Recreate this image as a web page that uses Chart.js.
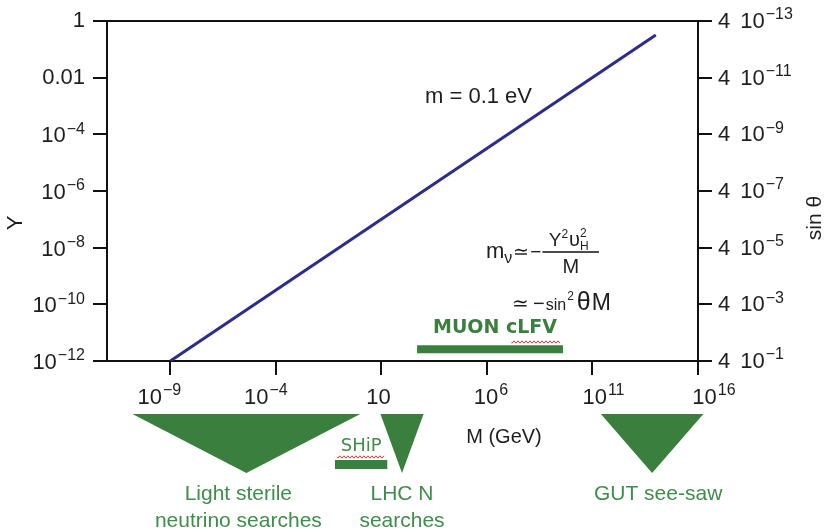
<!DOCTYPE html>
<html>
<head>
<meta charset="utf-8">
<script src="https://cdn.jsdelivr.net/npm/chart.js@4.4.1/dist/chart.umd.min.js"></script>
<style>
  html, body { margin: 0; padding: 0; background: #fff; }
  #wrap { width: 827px; height: 532px; position: relative; }
</style>
</head>
<body>
<div id="wrap"><canvas id="seesaw"></canvas></div>
<script>
// m = 0.1 eV see-saw line: Yukawa Y against heavy mass M (GeV)
var massGeV = [1e-9, 1e14];
var yukawa = [1e-12, 0.32];

var xTicks = [1e-9, 1e-4, 10, 1e6, 1e11, 1e16];
var xTickLabels = ['10^\u22129', '10^\u22124', '10', '10^6', '10^11', '10^16'];
var yTicks = [1, 1e-2, 1e-4, 1e-6, 1e-8, 1e-10, 1e-12];
var yTickLabels = ['1', '0.01', '10^\u22124', '10^\u22126', '10^\u22128', '10^\u221210', '10^\u221212'];
var sinTicks = [4e-13, 4e-11, 4e-9, 4e-7, 4e-5, 4e-3, 4e-1];
var sinTickLabels = ['4 10^\u221213', '4 10^\u221211', '4 10^\u22129', '4 10^\u22127', '4 10^\u22125', '4 10^\u22123', '4 10^\u22121'];

// experimental reach in M (GeV)
var muonRange = [490, 4e9];
var muonY = 2.6e-12;
var shipRange = [0.063, 19];
var searchNames = [['Light sterile', 'neutrino searches'], ['LHC N', 'searches'], ['GUT see-saw']];
var searchLo = [1.6e-11, 9, 2.5e11];
var searchHi = [1, 1000, 1.8e16];

var xLabelNudge = [-11, -10, -3, 4, 11, 16];
var searchLabelNudge = [-8, 0, 6];

var GREEN = '#3a7f3e';
var TEXTGREEN = '#3f8d4a';
var INK = '#1e1e1e';
var SANS = '"Liberation Sans", Arial, sans-serif';

function splitLabel(s) {
  var pre = '', i = s.indexOf(' ');
  if (i >= 0) { pre = s.slice(0, i); s = s.slice(i + 1); }
  var p = s.split('^');
  return { pre: pre, base: p[0], exp: p[1] || '' };
}

// tick label with optional superscript exponent
function drawLabel(c, s, x, y, align, dy) {
  var L = splitLabel(s);
  c.font = '22px ' + SANS;
  var wPre = L.pre ? c.measureText(L.pre).width + 10 : 0;
  var wBase = c.measureText(L.base).width;
  c.font = '16px ' + SANS;
  var wExp = L.exp ? c.measureText(L.exp).width + 1 : 0;
  var w = wPre + wBase + wExp;
  var x0 = align === 'right' ? x - w : (align === 'center' ? x - w / 2 : x);
  if (!L.exp) dy = 0;
  c.textAlign = 'left';
  c.textBaseline = 'middle';
  c.font = '22px ' + SANS;
  if (L.pre) c.fillText(L.pre, x0, y + dy);
  c.fillText(L.base, x0 + wPre, y + dy);
  if (L.exp) {
    c.font = '16px ' + SANS;
    c.fillText(L.exp, x0 + wPre + wBase + 1, y + dy - 7);
  }
}

// draw text pieces left to right: [text, fontPx, dy, gapAfter]
function run(c, x, y, pieces) {
  pieces.forEach(function(p) {
    c.font = p[1] + 'px ' + SANS;
    c.fillText(p[0], x, y + p[2]);
    x += c.measureText(p[0]).width + p[3];
  });
  return x;
}

function squiggle(c, x1, x2, y) {
  c.save();
  c.strokeStyle = '#e23b3b';
  c.lineWidth = 1;
  c.beginPath();
  c.moveTo(x1, y);
  for (var x = x1, k = 0; x <= x2; x += 2, k++) c.lineTo(x, y + (k % 2 ? -1.2 : 1.2));
  c.stroke();
  c.restore();
}

var decor = {
  id: 'decor',
  afterDraw: function(chart) {
    var c = chart.ctx, a = chart.chartArea;
    var sx = chart.scales.x, sy = chart.scales.y, s2 = chart.scales.y2;
    c.save();

    // top frame
    c.strokeStyle = '#111';
    c.lineWidth = 2;
    c.beginPath();
    c.moveTo(a.left, a.top);
    c.lineTo(a.right, a.top);
    c.stroke();

    // tick labels
    c.fillStyle = INK;
    yTicks.forEach(function(v, i) { drawLabel(c, yTickLabels[i], 85, sy.getPixelForValue(v), 'right', 2); });
    sinTicks.forEach(function(v, i) { drawLabel(c, sinTickLabels[i], 718, s2.getPixelForValue(v), 'left', 1); });
    xTicks.forEach(function(v, i) { drawLabel(c, xTickLabels[i], sx.getPixelForValue(v) + xLabelNudge[i], 398, 'center', 0); });

    // axis titles
    c.textAlign = 'center';
    c.textBaseline = 'middle';
    c.font = '20px ' + SANS;
    c.fillText('M (GeV)', 504, 437);
    c.save();
    c.translate(16, 223);
    c.rotate(-Math.PI / 2);
    c.font = '22px ' + SANS;
    c.fillText('Y', 0, 0);
    c.restore();
    c.save();
    c.translate(815, 218);
    c.rotate(-Math.PI / 2);
    c.font = '21px ' + SANS;
    c.fillText('sin \u03b8', 0, 0);
    c.restore();

    // line label
    c.textAlign = 'left';
    c.font = '22px ' + SANS;
    c.fillText('m = 0.1 eV', 425, 97);

    // see-saw formula
    c.textBaseline = 'alphabetic';
    var fx = run(c, 486, 258, [['m', 22, 0, 0], ['\u03bd', 16, 5, 1], ['\u2243', 19, 0, 1], ['\u2212', 19, 0, 1]]);
    c.lineWidth = 1.3;
    c.beginPath();
    c.moveTo(fx, 252);
    c.lineTo(599, 252);
    c.stroke();
    var nx = (fx + 599) / 2 - 22;
    var hx = run(c, nx, 246, [['Y', 19, 0, 0], ['2', 12, -8, 1], ['\u03c5', 20, 0, 0]]);
    c.font = '12px ' + SANS;
    c.fillText('2', hx, 237);
    c.fillText('H', hx, 250);
    c.font = '20px ' + SANS;
    c.textAlign = 'center';
    c.fillText('M', (fx + 599) / 2, 273);
    c.textAlign = 'left';
    run(c, 512, 310, [['\u2243', 20, 0, 4], ['\u2212', 20, 0, 1], ['sin', 16, 0, 1], ['2', 12, -10, 3], ['\u03b8', 25, 0, 1], ['M', 23, 0, 0]]);

    // MUON cLFV label over its bar
    var mx = sx.getPixelForValue(Math.sqrt(muonRange[0] * muonRange[1]));
    c.fillStyle = GREEN;
    c.textAlign = 'center';
    c.textBaseline = 'middle';
    c.font = 'bold 19px "DejaVu Sans", sans-serif';
    c.fillText('MUON cLFV', mx + 5, 328);
    squiggle(c, 512, 560, 342);

    // search triangles under the axis
    searchLo.forEach(function(lo, i) {
      var x1 = sx.getPixelForValue(lo), x2 = sx.getPixelForValue(searchHi[i]);
      var xm = sx.getPixelForValue(Math.sqrt(lo * searchHi[i]));
      c.fillStyle = GREEN;
      c.beginPath();
      c.moveTo(x1, 414);
      c.lineTo(x2, 414);
      c.lineTo(xm, 473);
      c.closePath();
      c.fill();
      c.fillStyle = TEXTGREEN;
      c.font = '21px ' + SANS;
      searchNames[i].forEach(function(t, j) { c.fillText(t, xm + searchLabelNudge[i], 494 + j * 27); });
    });

    // SHiP bar
    var s1 = sx.getPixelForValue(shipRange[0]), sEnd = sx.getPixelForValue(shipRange[1]);
    c.fillStyle = GREEN;
    c.fillRect(s1, 460, sEnd - s1, 9);
    c.fillStyle = TEXTGREEN;
    c.font = '18px "DejaVu Sans", sans-serif';
    c.fillText('SHiP', (s1 + sEnd) / 2, 446);
    squiggle(c, s1 + 3, sEnd - 2, 457);

    c.restore();
  }
};

function axisStyle(extra) {
  var o = {
    type: 'logarithmic',
    ticks: { display: false },
    grid: { drawOnChartArea: false, drawTicks: true, tickLength: 14, color: '#111', lineWidth: 2 },
    border: { display: true, color: '#111', width: 2 }
  };
  for (var k in extra) o[k] = extra[k];
  return o;
}

var ctx = document.getElementById('seesaw').getContext('2d');

new Chart(ctx, {
  type: 'line',
  data: {
    datasets: [{
      data: massGeV.map(function(m, i) { return { x: m, y: yukawa[i] }; }),
      borderColor: '#2d2b8c',
      borderWidth: 3,
      pointRadius: 0,
      yAxisID: 'y'
    }, {
      data: muonRange.map(function(m) { return { x: m, y: muonY }; }),
      borderColor: GREEN,
      borderWidth: 8,
      borderCapStyle: 'butt',
      pointRadius: 0,
      yAxisID: 'y'
    }]
  },
  options: {
    responsive: true,
    maintainAspectRatio: false,
    animation: false,
    layout: { padding: { top: 21, left: 0, right: 0, bottom: 0 } },
    plugins: { legend: { display: false }, tooltip: { enabled: false } },
    scales: {
      x: axisStyle({
        position: 'bottom', min: 1e-12, max: 1e16,
        afterBuildTicks: function(s) { s.ticks = xTicks.map(function(v) { return { value: v }; }); },
        afterFit: function(s) { s.height = 171; }
      }),
      y: axisStyle({
        position: 'left', min: 1e-12, max: 1,
        afterBuildTicks: function(s) { s.ticks = yTicks.map(function(v) { return { value: v }; }); },
        afterFit: function(s) { s.width = 107; }
      }),
      y2: axisStyle({
        position: 'right', min: 4e-13, max: 0.4, reverse: true,
        afterBuildTicks: function(s) { s.ticks = sinTicks.map(function(v) { return { value: v }; }); },
        afterFit: function(s) { s.width = 129; }
      })
    }
  },
  plugins: [decor]
});
</script>
</body>
</html>
